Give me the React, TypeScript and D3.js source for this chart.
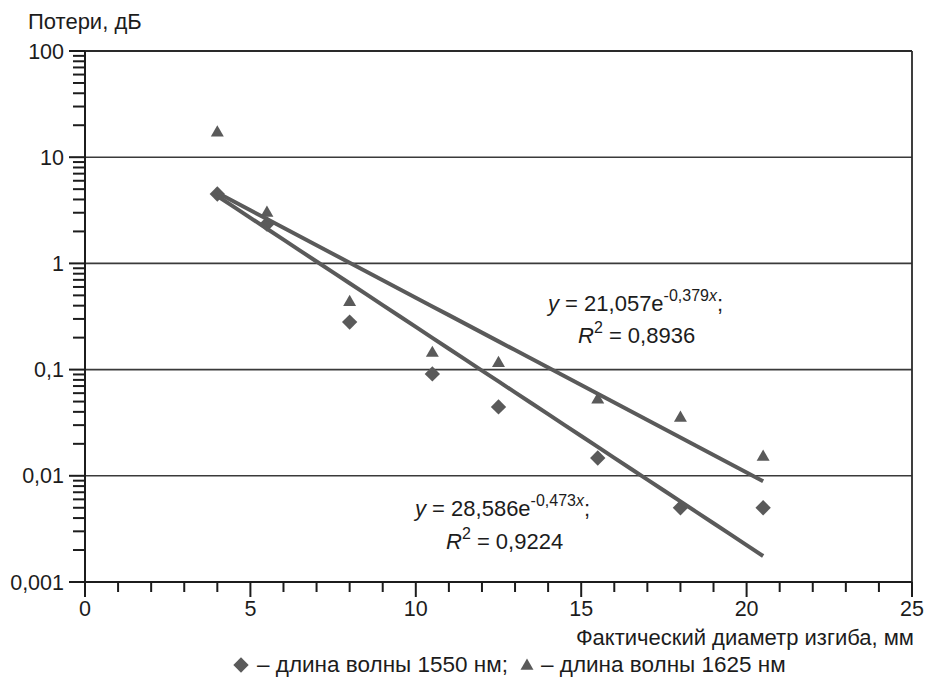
import React from "react";
import * as d3 from "d3";

// ---- data ----
const diameters = [4, 5.5, 8, 10.5, 12.5, 15.5, 18, 20.5];
const loss1550 = [4.5, 2.35, 0.28, 0.091, 0.0445, 0.0147, 0.005, 0.005];
const loss1625 = [17.0, 2.98, 0.43, 0.143, 0.115, 0.052, 0.035, 0.015];
const fit1550 = { a: 28.586, b: -0.473 };
const fit1625 = { a: 21.057, b: -0.379 };
const fitRange = [4, 20.5];
const yTickValues = [0.001, 0.01, 0.1, 1, 10, 100];
const yTickLabels = ["0,001", "0,01", "0,1", "1", "10", "100"];
const xTickValues = [0, 5, 10, 15, 20, 25];
const yTitle = "Потери, дБ";
const xTitle = "Фактический диаметр изгиба, мм";
const legend1 = "– длина волны 1550 нм;";
const legend2 = "– длина волны 1625 нм";

const W = 928;
const H = 684;
const FONT = "'Liberation Sans', Arial, sans-serif";
const MARK = "#5a5a5a";
const INK = "#1c1c1c";

export default function App() {
  const x = d3.scaleLinear().domain([0, 25]).range([85, 912]);
  const y = d3.scaleLog().domain([0.001, 100]).range([582, 51]);
  const left = x(0);
  const right = x(25);
  const top = y(100);
  const bottom = y(0.001);

  const minorY: number[] = [];
  for (let e = -3; e < 2; e++) {
    for (let m = 2; m <= 9; m++) minorY.push(m * Math.pow(10, e));
  }
  const minorX = d3.range(0, 26, 1).filter((v) => v % 5 !== 0);

  const fitPath = (f: { a: number; b: number }) => {
    const g = d3
      .line<number>()
      .x((d) => x(d))
      .y((d) => y(f.a * Math.exp(f.b * d)));
    return g(d3.range(fitRange[0], fitRange[1], 0.5).concat([fitRange[1]])) || "";
  };

  const diamond = d3.symbol().type(d3.symbolDiamond2).size(150)() || "";
  const triangle = d3.symbol().type(d3.symbolTriangle2).size(120)() || "";

  return (
    <svg
      width={W}
      height={H}
      style={{ position: "absolute", left: 0, top: 0, display: "block", background: "#fff" }}
      fontFamily={FONT}
    >
      {yTickValues.slice(1, -1).map((v) => (
        <line key={"g" + v} x1={left} x2={right} y1={y(v)} y2={y(v)} stroke="#3a3a3a" strokeWidth={1.6} />
      ))}
      <line x1={left} x2={right} y1={top} y2={top} stroke="#2a2a2a" strokeWidth={1.8} />
      <line x1={right} x2={right} y1={top} y2={bottom} stroke="#2a2a2a" strokeWidth={1.8} />

      <line x1={left} x2={left} y1={top} y2={bottom + 15} stroke={INK} strokeWidth={2} />
      {minorY.map((v, i) => (
        <line key={"my" + i} x1={left - 12} x2={left} y1={y(v)} y2={y(v)} stroke={INK} strokeWidth={2} />
      ))}
      {yTickValues.map((v, i) => (
        <g key={"yt" + v}>
          <line x1={left - 16} x2={left} y1={y(v)} y2={y(v)} stroke={INK} strokeWidth={2} />
          <text x={left - 21} y={y(v) + 7.5} textAnchor="end" fontSize={21.5} fill={INK}>
            {yTickLabels[i]}
          </text>
        </g>
      ))}

      <line x1={left} x2={right} y1={bottom} y2={bottom} stroke={INK} strokeWidth={2} />
      {minorX.map((v) => (
        <line key={"mx" + v} x1={x(v)} x2={x(v)} y1={bottom} y2={bottom + 10} stroke={INK} strokeWidth={2} />
      ))}
      {xTickValues.map((v) => (
        <g key={"xt" + v}>
          <line x1={x(v)} x2={x(v)} y1={bottom} y2={bottom + 15} stroke={INK} strokeWidth={2} />
          <text x={x(v)} y={616} textAnchor="middle" fontSize={21.5} fill={INK}>
            {String(v)}
          </text>
        </g>
      ))}

      <text x={28} y={29} fontSize={22} fill={INK}>
        {yTitle}
      </text>
      <text x={right + 2} y={645} textAnchor="end" fontSize={22} fill={INK}>
        {xTitle}
      </text>

      {diameters.map((d, i) => (
        <path key={"d" + i} d={diamond} transform={`translate(${x(d)},${y(loss1550[i])})`} fill={MARK} />
      ))}
      {diameters.map((d, i) => (
        <path key={"t" + i} d={triangle} transform={`translate(${x(d)},${y(loss1625[i])})`} fill={MARK} />
      ))}

      <path d={fitPath(fit1550)} fill="none" stroke={MARK} strokeWidth={4} />
      <path d={fitPath(fit1625)} fill="none" stroke={MARK} strokeWidth={4} />

      <text x={548} y={311} fontSize={22} fill={INK}>
        <tspan fontStyle="italic">y</tspan> = 21,057e
        <tspan dy={-10} fontSize={16}>
          -0,379<tspan fontStyle="italic">x</tspan>
        </tspan>
        <tspan dy={10}>;</tspan>
      </text>
      <text x={578} y={343} fontSize={22} fill={INK}>
        <tspan fontStyle="italic">R</tspan>
        <tspan dy={-10} fontSize={16}>2</tspan>
        <tspan dy={10}> = 0,8936</tspan>
      </text>
      <text x={415} y={516} fontSize={22} fill={INK}>
        <tspan fontStyle="italic">y</tspan> = 28,586e
        <tspan dy={-10} fontSize={16}>
          -0,473<tspan fontStyle="italic">x</tspan>
        </tspan>
        <tspan dy={10}>;</tspan>
      </text>
      <text x={446} y={549} fontSize={22} fill={INK}>
        <tspan fontStyle="italic">R</tspan>
        <tspan dy={-10} fontSize={16}>2</tspan>
        <tspan dy={10}> = 0,9224</tspan>
      </text>

      <path d={diamond} transform="translate(241,665)" fill={MARK} />
      <text x={257} y={672} fontSize={22.5} fill={INK}>
        {legend1}
      </text>
      <path d={triangle} transform="translate(527,666)" fill={MARK} />
      <text x={541} y={672} fontSize={22.5} fill={INK}>
        {legend2}
      </text>
    </svg>
  );
}
